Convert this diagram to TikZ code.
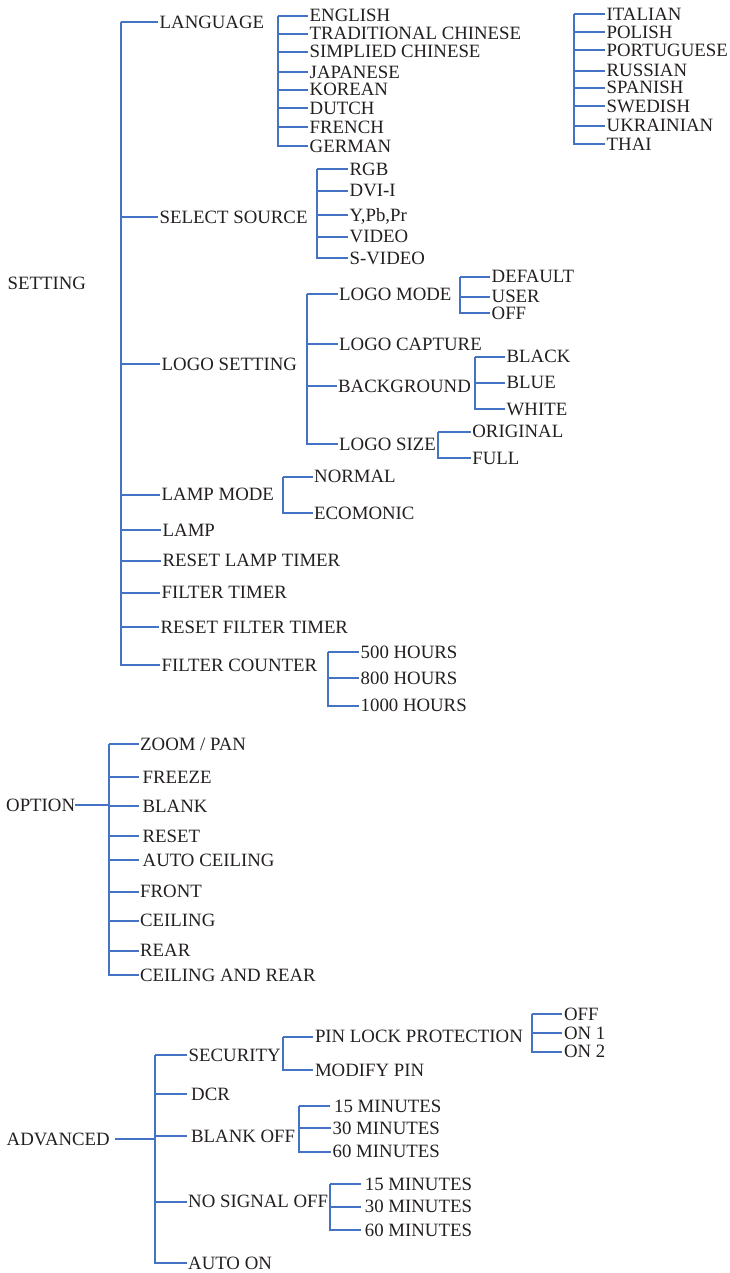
\documentclass[tikz,border=0pt]{standalone}
\usepackage{fontspec}
\setmainfont{Liberation Serif}
\definecolor{lineblue}{RGB}{68,114,196}
\definecolor{txt}{RGB}{35,31,32}
\tikzset{
  lbl/.style={anchor=west, inner xsep=1.5pt, inner ysep=0pt, text height=12.3pt, text depth=0pt,
    font=\fontsize{18.8pt}{20pt}\selectfont, text=txt},
  lblw/.style={lbl, inner xsep=4pt},
  ln/.style={draw=lineblue, line width=2pt}
}
\begin{document}
\begin{tikzpicture}[x=1pt,y=-1pt]
\useasboundingbox (0,0) rectangle (730,1273);
% ---------------- SETTING ----------------
\node[lbl] (setting) at (6,283) {SETTING};
\coordinate (sS) at (120.5,22);
\node[lbl] (language) at (158,22) {LANGUAGE};
\node[lbl] (source) at (158,217) {SELECT SOURCE};
\node[lbl] (logoset) at (160,364) {LOGO SETTING};
\node[lbl] (lampmode) at (160,494.5) {LAMP MODE};
\node[lbl] (lamp) at (161,530) {LAMP};
\node[lbl] (rlt) at (161,560.7) {RESET LAMP TIMER};
\node[lbl] (ftimer) at (160,592.7) {FILTER TIMER};
\node[lbl] (rft) at (159,627.3) {RESET FILTER TIMER};
\node[lbl] (fcount) at (160,665) {FILTER COUNTER};
\foreach \n in {language,source,logoset,lampmode,lamp,rlt,ftimer,rft,fcount}
  \draw[ln] (sS) |- (\n.west);
% languages, first column
\coordinate (lS) at (277.7,15.7);
\node[lbl] (en) at (308,15.7) {ENGLISH};
\node[lbl] (tc) at (308,33.7) {TRADITIONAL CHINESE};
\node[lbl] (sc) at (308,51.7) {SIMPLIED CHINESE};
\node[lbl] (jp) at (308,72) {JAPANESE};
\node[lbl] (kr) at (308,89.7) {KOREAN};
\node[lbl] (nl) at (308,108) {DUTCH};
\node[lbl] (fr) at (308,127.5) {FRENCH};
\node[lbl] (de) at (308,146) {GERMAN};
\foreach \n in {en,tc,sc,jp,kr,nl,fr,de}
  \draw[ln] (lS) |- (\n.west);
% languages, second column
\coordinate (lT) at (574.3,14);
\node[lbl] (it) at (605,14) {ITALIAN};
\node[lbl] (pl) at (605,32.3) {POLISH};
\node[lbl] (pt) at (605,50) {PORTUGUESE};
\node[lbl] (ru) at (605,70.7) {RUSSIAN};
\node[lbl] (es) at (605,87.7) {SPANISH};
\node[lbl] (sv) at (605,106) {SWEDISH};
\node[lbl] (uk) at (605,125.7) {UKRAINIAN};
\node[lbl] (th) at (605,144.3) {THAI};
\foreach \n in {it,pl,pt,ru,es,sv,uk,th}
  \draw[ln] (lT) |- (\n.west);
% select source
\coordinate (ssS) at (317,169.3);
\node[lbl] (rgb) at (348,169.3) {RGB};
\node[lbl] (dvi) at (348,190.7) {DVI-I};
\node[lbl] (ypb) at (348,215) {Y,Pb,Pr};
\node[lbl] (video) at (348,236.7) {VIDEO};
\node[lbl] (svideo) at (348,258.3) {S-VIDEO};
\foreach \n in {rgb,dvi,ypb,video,svideo}
  \draw[ln] (ssS) |- (\n.west);
% logo setting
\coordinate (lgS) at (306.7,294.3);
\node[lbl] (logomode) at (337.5,294.3) {LOGO MODE};
\node[lbl] (logocap) at (337.5,344.3) {LOGO CAPTURE};
\node[lbl] (backgr) at (336.5,386) {BACKGROUND};
\node[lbl] (logosize) at (337.5,444) {LOGO SIZE};
\foreach \n in {logomode,logocap,backgr,logosize}
  \draw[ln] (lgS) |- (\n.west);
% logo mode
\coordinate (lmS) at (460,276.7);
\node[lbl] (default) at (490,276.7) {DEFAULT};
\node[lbl] (user) at (490,296.5) {USER};
\node[lbl] (lmoff) at (490,313.3) {OFF};
\foreach \n in {default,user,lmoff}
  \draw[ln] (lmS) |- (\n.west);
% background
\coordinate (bgS) at (475,356.7);
\node[lbl] (black) at (505,356.7) {BLACK};
\node[lbl] (blue) at (505,382.7) {BLUE};
\node[lbl] (white) at (505,409.3) {WHITE};
\foreach \n in {black,blue,white}
  \draw[ln] (bgS) |- (\n.west);
% logo size
\coordinate (lzS) at (438.3,431.7);
\node[lbl] (original) at (470.7,431.7) {ORIGINAL};
\node[lbl] (full) at (470.7,458.3) {FULL};
\foreach \n in {original,full}
  \draw[ln] (lzS) |- (\n.west);
% lamp mode
\coordinate (lpS) at (282.7,476.7);
\node[lbl] (normal) at (312.5,476.7) {NORMAL};
\node[lbl] (eco) at (312.5,513.3) {ECOMONIC};
\foreach \n in {normal,eco}
  \draw[ln] (lpS) |- (\n.west);
% filter counter
\coordinate (fcS) at (328.3,652.3);
\node[lbl] (h500) at (359,652.3) {500 HOURS};
\node[lbl] (h800) at (359,678.3) {800 HOURS};
\node[lbl] (h1000) at (359,705.7) {1000 HOURS};
\foreach \n in {h500,h800,h1000}
  \draw[ln] (fcS) |- (\n.west);
% ---------------- OPTION ----------------
\node[lbl, inner xsep=0pt] (option) at (6,805) {OPTION};
\coordinate (oS) at (109,744.3);
\draw[ln] (option.east) -- (oS |- option.east);
\node[lbl] (zoom) at (138.5,744.3) {ZOOM / PAN};
\node[lblw] (freeze) at (138.5,777.3) {FREEZE};
\node[lblw] (blank) at (138.5,806) {BLANK};
\node[lblw] (reset) at (138.5,836) {RESET};
\node[lblw] (autoceil) at (138.5,860) {AUTO CEILING};
\node[lbl] (front) at (138.5,891.7) {FRONT};
\node[lbl] (ceiling) at (138.5,920.7) {CEILING};
\node[lbl] (rear) at (138.5,950.7) {REAR};
\node[lbl] (ceilrear) at (138.5,975) {CEILING AND REAR};
\foreach \n in {zoom,freeze,blank,reset,autoceil,front,ceiling,rear,ceilrear}
  \draw[ln] (oS) |- (\n.west);
% ---------------- ADVANCED ----------------
\node[lbl, inner xsep=0pt] (advanced) at (6.5,1139.3) {ADVANCED};
\coordinate (aS) at (155,1055);
\draw[ln] ([xshift=5pt]advanced.east) -- (aS |- advanced.east);
\node[lbl] (security) at (187,1055) {SECURITY};
\node[lblw] (dcr) at (187,1094.3) {DCR};
\node[lblw] (blankoff) at (187,1136) {BLANK OFF};
\node[lbl] (nosignal) at (186.5,1201.7) {NO SIGNAL OFF};
\node[lbl] (autoon) at (186.5,1263) {AUTO ON};
\foreach \n in {security,dcr,blankoff,nosignal,autoon}
  \draw[ln] (aS) |- (\n.west);
% security
\coordinate (scS) at (283.3,1036.7);
\node[lbl] (pinlock) at (313.3,1036.7) {PIN LOCK PROTECTION};
\node[lbl] (modpin) at (313.3,1070) {MODIFY PIN};
\foreach \n in {pinlock,modpin}
  \draw[ln] (scS) |- (\n.west);
% pin lock protection
\coordinate (plS) at (531.7,1014.3);
\node[lbl] (ploff) at (562.3,1014.3) {OFF};
\node[lbl] (on1) at (562.3,1033.3) {ON 1};
\node[lbl] (on2) at (562.3,1051.7) {ON 2};
\foreach \n in {ploff,on1,on2}
  \draw[ln] (plS) |- (\n.west);
% blank off
\coordinate (boS) at (299.3,1106);
\node[lblw] (b15) at (330,1106) {15 MINUTES};
\node[lbl] (b30) at (331,1128.3) {30 MINUTES};
\node[lbl] (b60) at (331,1151.7) {60 MINUTES};
\foreach \n in {b15,b30,b60}
  \draw[ln] (boS) |- (\n.west);
% no signal off
\coordinate (nsS) at (330,1184);
\node[lblw] (n15) at (360.7,1184) {15 MINUTES};
\node[lblw] (n30) at (360.7,1206.7) {30 MINUTES};
\node[lblw] (n60) at (360.7,1230) {60 MINUTES};
\foreach \n in {n15,n30,n60}
  \draw[ln] (nsS) |- (\n.west);
\end{tikzpicture}
\end{document}
